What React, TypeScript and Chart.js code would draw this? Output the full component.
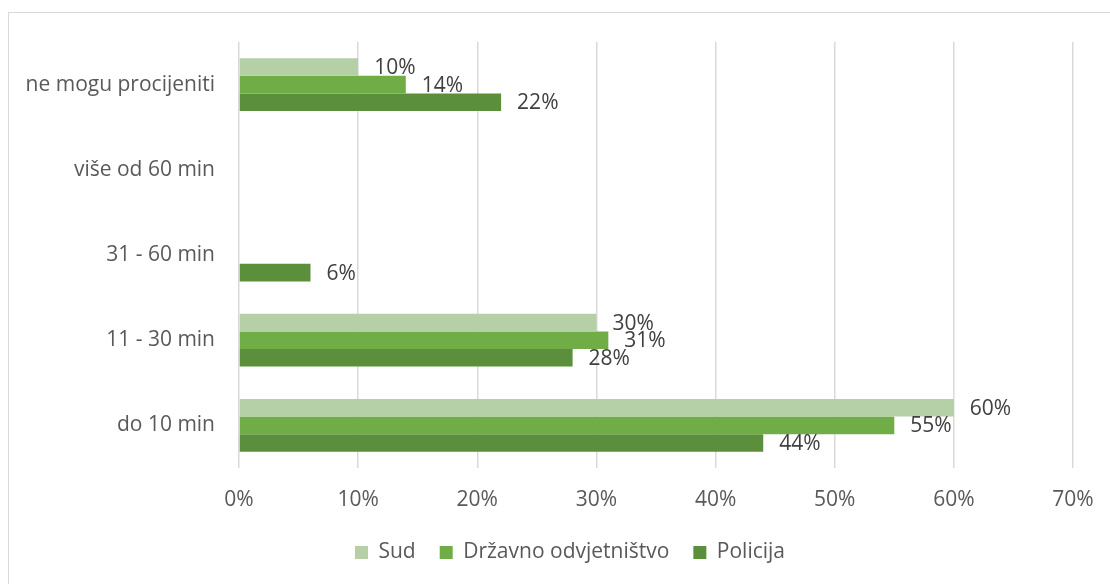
import React, { useEffect, useRef } from "react";
import { Chart, registerables } from "chart.js";

Chart.register(...registerables);

const categories = ["ne mogu procijeniti", "više od 60 min", "31 - 60 min", "11 - 30 min", "do 10 min"];
const seriesNames = ["Sud", "Državno odvjetništvo", "Policija"];
const sudValues = [10, 0, 0, 30, 60];
const odvjetnistvoValues = [14, 0, 0, 31, 55];
const policijaValues = [22, 0, 6, 28, 44];
const seriesColors = ["#b5cfa6", "#70ad47", "#5b8f3b"];
const xMin = 0;
const xMax = 70;
const xStep = 10;

const FONT = "'Open Sans', 'DejaVu Sans', sans-serif";
const FS = 21;

const dataLabelsPlugin = {
  id: "dataLabels",
  afterDatasetsDraw(chart: any) {
    const ctx = chart.ctx;
    ctx.save();
    ctx.font = `${FS}px ${FONT}`;
    ctx.fillStyle = "#404040";
    ctx.textBaseline = "middle";
    ctx.textAlign = "left";
    chart.data.datasets.forEach((ds: any, i: number) => {
      const meta = chart.getDatasetMeta(i);
      meta.data.forEach((el: any, j: number) => {
        const v = ds.data[j];
        if (!v) return;
        ctx.fillText(`${v}%`, el.x + 16, el.y + 1);
      });
    });
    ctx.restore();
  },
};

const legendShiftPlugin = {
  id: "legendShift",
  afterLayout(chart: any, _args: any, opts: any) {
    const lg = chart.legend;
    if (!lg) return;
    const cur = (lg.left + lg.right) / 2;
    const dx = opts.center - cur;
    lg.left += dx;
    lg.right += dx;
  },
};

export default function App() {
  const ref = useRef<HTMLCanvasElement | null>(null);

  useEffect(() => {
    if (!ref.current) return;
    const values = [sudValues, odvjetnistvoValues, policijaValues];
    const chart = new Chart(ref.current, {
      type: "bar",
      data: {
        labels: categories,
        datasets: seriesNames.map((name, i) => ({
          label: name,
          data: values[i],
          backgroundColor: seriesColors[i],
          borderWidth: 0,
          categoryPercentage: 0.62,
          barPercentage: 1.0,
        })),
      },
      options: {
        indexAxis: "y",
        responsive: false,
        animation: false,
        layout: { padding: { top: 29, right: 36, bottom: 12, left: 0 } },
        scales: {
          x: {
            min: xMin,
            max: xMax,
            ticks: {
              stepSize: xStep,
              callback: (v: any) => `${v}%`,
              color: "#595959",
              font: { size: FS, family: FONT },
              padding: 19,
            },
            grid: { color: "#d9d9d9", lineWidth: 1.5, drawTicks: false },
            border: { display: false },
            afterFit: (scale: any) => {
              scale.height = 50;
              scale.paddingLeft = 0;
              scale.paddingRight = 0;
            },
          },
          y: {
            ticks: {
              color: "#595959",
              font: { size: FS, family: FONT },
              padding: 24,
            },
            grid: { display: false, drawTicks: false },
            border: { display: false },
            afterFit: (scale: any) => {
              scale.width = 230;
              scale.paddingTop = 0;
              scale.paddingBottom = 0;
            },
          },
        },
        plugins: {
          legend: {
            position: "bottom",
            labels: {
              boxWidth: 13,
              boxHeight: 13,
              padding: 24,
              color: "#595959",
              font: { size: FS, family: FONT },
            },
          },
          tooltip: { enabled: false },
          legendShift: { center: 561 },
        } as any,
      },
      plugins: [dataLabelsPlugin, legendShiftPlugin],
    });
    return () => chart.destroy();
  }, []);

  return (
    <div style={{ position: "fixed", inset: 0, overflow: "hidden", background: "#fff" }}>
      <div
        style={{
          position: "absolute",
          left: 8,
          top: 12,
          width: 1110,
          height: 600,
          border: "1px solid #d9d9d9",
          boxSizing: "border-box",
        }}
      >
        <canvas ref={ref} width={1100} height={572} style={{ position: "absolute", left: 0, top: 0 }} />
      </div>
    </div>
  );
}
